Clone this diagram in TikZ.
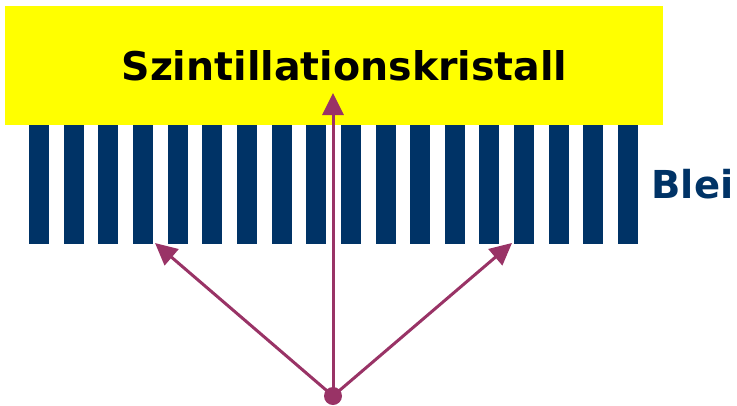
\documentclass[tikz,border=0pt]{standalone}
\usepackage{fontspec}
\setmainfont{DejaVu Sans}
\usepackage{tikz}
\usetikzlibrary{arrows.meta}

\definecolor{crystal}{HTML}{FFFF00}
\definecolor{lead}{HTML}{003366}
\definecolor{ray}{HTML}{993366}

\begin{document}
\begin{tikzpicture}[
  x=1pt,y=-1pt,
  slab/.style={rectangle,fill=crystal,inner sep=0pt,minimum width=658pt,minimum height=119pt},
  title/.style={font=\fontsize{39.5}{44}\selectfont\bfseries},
  septum/.style={rectangle,fill=lead,inner sep=0pt,minimum width=20pt,minimum height=118.5pt},
  source/.style={circle,fill=ray,inner sep=0pt,minimum size=18pt},
  gamma/.style={-{Triangle[length=22pt,width=21pt]},draw=ray,fill=ray,line width=3pt}
]
  \useasboundingbox (0,0) rectangle (737,405);
  \node[slab] (kristall) at (334,65.5) {};
  \node[title] (kristalltext) at (344.5,66) {Szintillationskristall};
  % collimator septa
  \foreach \i in {0,...,17}
    \node[septum] (s\i) at ({39+34.65*\i},184.25) {};
  \node[title,text=lead,anchor=west,font=\fontsize{38.5}{44}\selectfont\bfseries] (blei) at (648,184) {Blei};
  \node[source] (quelle) at (333,396) {};
  \coordinate (links) at (155,243);
  \coordinate (mitte) at (333,93);
  \coordinate (rechts) at (512,243);
  \draw[gamma] (quelle.center) -- (links);
  \draw[gamma] (quelle.center) -- (mitte);
  \draw[gamma] (quelle.center) -- (rechts);
\end{tikzpicture}
\end{document}
